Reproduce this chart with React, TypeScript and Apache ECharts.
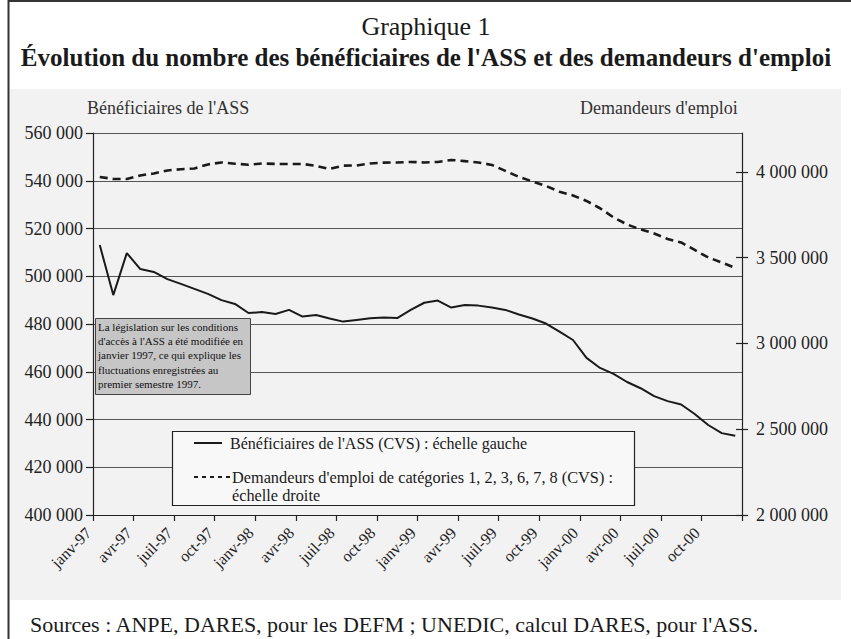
import React, { useEffect, useRef } from "react";
import * as echarts from "echarts";

const MONTHS = ["janv", "févr", "mars", "avr", "mai", "juin", "juil", "août", "sept", "oct", "nov", "déc"];
const YEARS = ["97", "98", "99", "00"];
const categories: string[] = [];
YEARS.forEach((y) => MONTHS.forEach((m) => categories.push(`${m}-${y}`)));

const beneficiairesASS = [
  513100, 492100, 509700, 503000, 501800, 498800, 496800, 494700, 492600, 490000, 488400, 484600,
  485000, 484200, 485900, 483100, 483800, 482300, 481000, 481700, 482400, 482700, 482500, 485900,
  488900, 489800, 486900, 488000, 487700, 486900, 485900, 484000, 482300, 480200, 476800, 473300,
  465800, 461600, 459100, 455700, 453100, 449800, 447700, 446300, 442300, 437700, 434300, 433200,
];

const demandeursEmploi = [
  3970900, 3959000, 3959000, 3979600, 3991300, 4008800, 4015800, 4020400, 4043800, 4055400, 4047800, 4042000,
  4049600, 4046700, 4046700, 4046700, 4035000, 4017500, 4036800, 4037900, 4049600, 4054300, 4055400, 4058300,
  4055400, 4058300, 4070000, 4063000, 4055400, 4040900, 4005900, 3970900, 3944600, 3918400, 3884600, 3863000,
  3830900, 3788400, 3734700, 3693900, 3664800, 3641400, 3609400, 3589000, 3545200, 3501500, 3472300, 3440300,
];

const leftTicks = { min: 400000, max: 560000, interval: 20000 };
const rightTickValues = [2000000, 2500000, 3000000, 3500000, 4000000];
const rightRange = { min: 2000000, max: 4227000 };

const TITLE = "Graphique 1";
const SUBTITLE = "Évolution du nombre des bénéficiaires de l'ASS et des demandeurs d'emploi";
const LEFT_NAME = "Bénéficiaires de l'ASS";
const RIGHT_NAME = "Demandeurs d'emploi";
const LEGEND_1 = "Bénéficiaires de l'ASS (CVS) : échelle gauche";
const LEGEND_2a = "Demandeurs d'emploi de catégories 1, 2, 3, 6, 7, 8 (CVS) :";
const LEGEND_2b = "échelle droite";
const NOTE = [
  "La législation sur les conditions",
  "d'accès à l'ASS a été modifiée en",
  "janvier 1997, ce qui explique les",
  "fluctuations enregistrées au",
  "premier semestre 1997.",
];
const SOURCES = "Sources : ANPE, DARES, pour les DEFM ; UNEDIC, calcul DARES, pour l'ASS.";

const SERIF = '"Liberation Serif", "DejaVu Serif", serif';
const fmt = (v: number) => String(Math.round(v)).replace(/\B(?=(\d{3})+(?!\d))/g, " ");

export default function App() {
  const ref = useRef<HTMLDivElement>(null);
  useEffect(() => {
    if (!ref.current) return;
    const chart = echarts.init(ref.current, undefined, { renderer: "svg" });
    const txt = (x: number, y: number, text: string, font: string, align = "left", extra: any = {}) => ({
      type: "text",
      x,
      y,
      z: 20,
      silent: true,
      style: { text, font, fill: "#1a1a1a", textAlign: align, textVerticalAlign: "middle", ...extra },
    });
    chart.setOption({
      animation: false,
      backgroundColor: "#ffffff",
      grid: { left: 93, right: 109, top: 133, bottom: 124, containLabel: false },
      xAxis: {
        type: "category",
        data: categories,
        boundaryGap: true,
        axisLine: { show: true, onZero: false, lineStyle: { color: "#222", width: 1.2 } },
        axisTick: { show: true, interval: 2, length: 6, lineStyle: { color: "#222", width: 1.2 } },
        axisLabel: {
          interval: 2,
          rotate: 45,
          fontFamily: SERIF,
          fontSize: 16,
          color: "#222",
          margin: 4,
          padding: [0, 16, 0, 0],
        },
        splitLine: { show: false },
      },
      yAxis: [
        {
          type: "value",
          min: leftTicks.min,
          max: leftTicks.max,
          interval: leftTicks.interval,
          position: "left",
          axisLine: { show: true, lineStyle: { color: "#222", width: 1.2 } },
          axisTick: { show: true, length: 7, lineStyle: { color: "#222", width: 1.2 } },
          axisLabel: { fontFamily: SERIF, fontSize: 18, color: "#222", margin: 10, formatter: fmt },
          splitLine: { show: true, lineStyle: { color: "#555", width: 1.2 } },
        },
        {
          type: "value",
          min: rightRange.min,
          max: rightRange.max,
          position: "right",
          axisLine: { show: true, lineStyle: { color: "#222", width: 1.2 } },
          axisTick: { show: true, length: 6, customValues: rightTickValues, lineStyle: { color: "#222", width: 1.2 } },
          axisLabel: { fontFamily: SERIF, fontSize: 18, color: "#222", margin: 14, formatter: fmt, customValues: rightTickValues },
          splitLine: { show: false },
        },
        {
          type: "value",
          min: rightRange.min,
          max: rightRange.max,
          position: "right",
          axisLine: { show: false },
          axisTick: { show: true, inside: true, length: 6, customValues: rightTickValues, lineStyle: { color: "#222", width: 1.2 } },
          axisLabel: { show: false },
          splitLine: { show: false },
        },
      ],
      series: [
        {
          name: LEGEND_1,
          type: "line",
          data: beneficiairesASS,
          yAxisIndex: 0,
          symbol: "none",
          lineStyle: { color: "#1a1a1a", width: 2 },
          z: 5,
        },
        {
          name: LEGEND_2a,
          type: "line",
          data: demandeursEmploi,
          yAxisIndex: 1,
          symbol: "none",
          lineStyle: { color: "#1a1a1a", width: 2.6, type: [8, 5] },
          z: 5,
        },
      ],
      graphic: [
        { type: "rect", z: -10, silent: true, shape: { x: 10, y: 89, width: 831, height: 511 }, style: { fill: "#f3f2f2" } },
        { type: "line", z: 30, silent: true, shape: { x1: 8.5, y1: 0, x2: 8.5, y2: 639 }, style: { stroke: "#333", lineWidth: 2 } },
        { type: "line", z: 30, silent: true, shape: { x1: 8, y1: 1, x2: 851, y2: 1 }, style: { stroke: "#333", lineWidth: 2 } },
        txt(426, 26, TITLE, `26px ${SERIF}`, "center"),
        txt(426, 57, SUBTITLE, `bold 25px ${SERIF}`, "center"),
        txt(87, 108, LEFT_NAME, `18px ${SERIF}`, "left", { fill: "#333" }),
        txt(580, 108, RIGHT_NAME, `18px ${SERIF}`, "left", { fill: "#333" }),
        // annotation box
        {
          type: "rect",
          z: 15,
          silent: true,
          shape: { x: 95.5, y: 318.5, width: 155, height: 76 },
          style: { fill: "#c6c6c6", stroke: "#444", lineWidth: 1 },
        },
        ...NOTE.map((line, i) => txt(98, 327 + i * 14.2, line, `11px ${SERIF}`, "left", { fill: "#111" })),
        // legend box
        {
          type: "rect",
          z: 15,
          silent: true,
          shape: { x: 172.5, y: 431.5, width: 462, height: 74 },
          style: { fill: "#f8f8f8", stroke: "#222", lineWidth: 1.2 },
        },
        { type: "line", z: 20, silent: true, shape: { x1: 194, y1: 443, x2: 222, y2: 443 }, style: { stroke: "#1a1a1a", lineWidth: 2 } },
        { type: "line", z: 20, silent: true, shape: { x1: 194, y1: 477, x2: 230, y2: 477 }, style: { stroke: "#1a1a1a", lineWidth: 2, lineDash: [4, 4] } },
        txt(230, 443, LEGEND_1, `16px ${SERIF}`),
        txt(232, 477, LEGEND_2a, `16.3px ${SERIF}`),
        txt(232, 495, LEGEND_2b, `16.3px ${SERIF}`),
        txt(30, 624, SOURCES, `22px ${SERIF}`),
      ],
    });
    return () => chart.dispose();
  }, []);
  return <div ref={ref} style={{ position: "fixed", left: 0, top: 0, width: 851, height: 639 }} />;
}
